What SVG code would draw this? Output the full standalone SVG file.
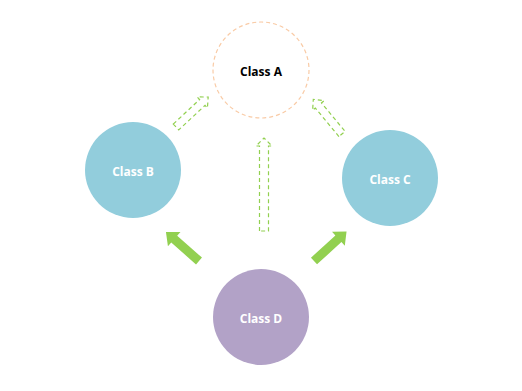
<svg xmlns="http://www.w3.org/2000/svg" width="522" height="391" viewBox="0 0 522 391">
<style>
.lbl{font-family:"Open Sans","Liberation Sans",sans-serif;font-size:12px;font-weight:bold;text-anchor:middle;dominant-baseline:central}
.w{fill:#ffffff}
.k{fill:#000000}
.solid{fill:#92D050;stroke:none}
.dash{fill:none;stroke:#92D050;stroke-width:1.2;stroke-dasharray:4 3}
</style>
<rect width="522" height="391" fill="#ffffff"/>
<g id="nodeA">
<circle cx="261" cy="70" r="48" fill="#ffffff" stroke="#F9CBA6" stroke-width="1.2" stroke-dasharray="4 3"/>
<text class="lbl k" x="261" y="71">Class A</text>
</g>
<g id="nodeB">
<circle cx="133" cy="170" r="48" fill="#92CDDC"/>
<text class="lbl w" x="133" y="171">Class B</text>
</g>
<g id="nodeC">
<circle cx="390" cy="178" r="48" fill="#92CDDC"/>
<text class="lbl w" x="390" y="179">Class C</text>
</g>
<g id="nodeD">
<circle cx="261" cy="317" r="48" fill="#B2A2C7"/>
<text class="lbl w" x="261" y="318">Class D</text>
</g>
<g id="connectors">
<polygon class="solid" transform="translate(199,261) rotate(221.3)" points="0,-4.5 33,-4.5 33,-9.5 44,0 33,9.5 33,4.5 0,4.5"/>
<polygon class="solid" transform="translate(314,261) rotate(-42.3)" points="0,-4.5 33,-4.5 33,-9.5 44,0 33,9.5 33,4.5 0,4.5"/>
<polygon class="dash" transform="translate(176,127) rotate(-43)" points="0,-4 36,-4 36,-7.5 44,0 36,7.5 36,4 0,4"/>
<polygon class="dash" transform="translate(342,134) rotate(-129.6)" points="0,-4 37,-4 37,-7.5 45,0 37,7.5 37,4 0,4"/>
<polygon class="dash" transform="translate(264,231) rotate(-90)" points="0,-4.5 85,-4.5 85,-8 93,0 85,8 85,4.5 0,4.5"/>
</g>
</svg>
